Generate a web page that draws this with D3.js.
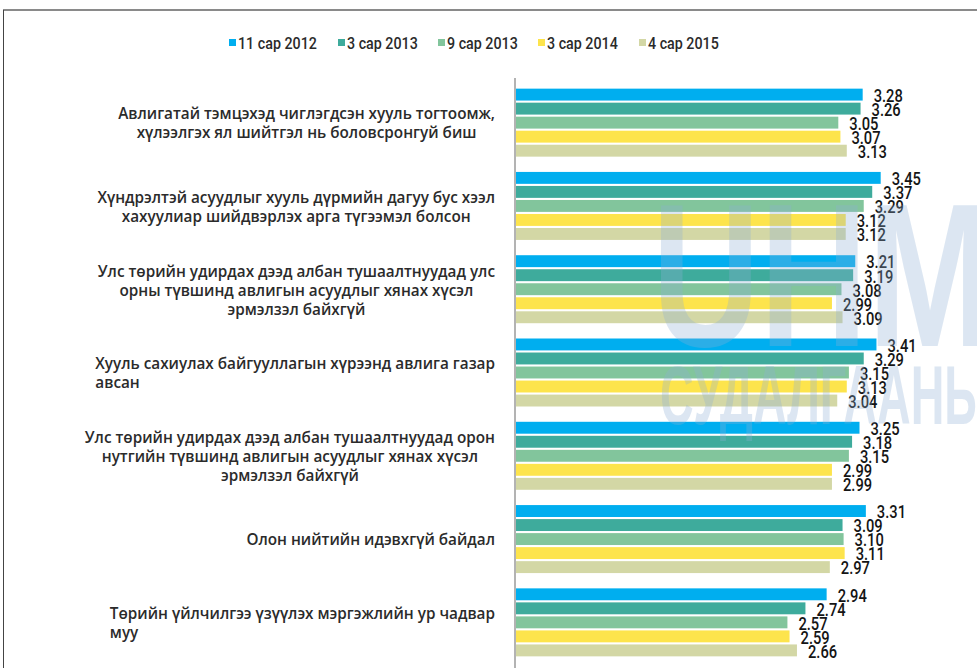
<!DOCTYPE html>
<html><head><meta charset="utf-8">
<script src="https://cdn.jsdelivr.net/npm/d3@7"></script>
<style>
html,body{margin:0;padding:0;background:#fff;}
svg{display:block;}
</style></head>
<body>
<svg id="chart" width="977" height="668"></svg>
<script>
// ---- data ----
const categories = [
  ["Авлигатай тэмцэхэд чиглэгдсэн хууль тогтоомж,", "хүлээлгэх ял шийтгэл нь боловсронгуй биш"],
  ["Хүндрэлтэй асуудлыг хууль дүрмийн дагуу бус хээл", "хахуулиар шийдвэрлэх арга түгээмэл болсон"],
  ["Улс төрийн удирдах дээд албан тушаалтнуудад улс", "орны түвшинд авлигын асуудлыг хянах хүсэл", "эрмэлзэл байхгүй"],
  ["Хууль сахиулах байгууллагын хүрээнд авлига газар", "авсан"],
  ["Улс төрийн удирдах дээд албан тушаалтнуудад орон", "нутгийн түвшинд авлигын асуудлыг хянах хүсэл", "эрмэлзэл байхгүй"],
  ["Олон нийтийн идэвхгүй байдал"],
  ["Төрийн үйлчилгээ үзүүлэх мэргэжлийн ур чадвар", "муу"]
];
const seriesNames = ["11 сар 2012", "3 сар 2013", "9 сар 2013", "3 сар 2014", "4 сар 2015"];
const s2012_11 = [3.28, 3.45, 3.21, 3.41, 3.25, 3.31, 2.94];
const s2013_03 = [3.26, 3.37, 3.19, 3.29, 3.18, 3.09, 2.74];
const s2013_09 = [3.05, 3.29, 3.08, 3.15, 3.15, 3.10, 2.57];
const s2014_03 = [3.07, 3.12, 2.99, 3.13, 2.99, 3.11, 2.59];
const s2015_04 = [3.13, 3.12, 3.09, 3.04, 2.99, 2.97, 2.66];
const seriesValues = [s2012_11, s2013_03, s2013_09, s2014_03, s2015_04];

// ---- styles ----
const colors = ["#00aeef", "#3eab9c", "#82c59c", "#fde44c", "#d3d7a5"];
const leftAlignedLabels = new Set([3, 6]);
const numFont = "Roboto,'Liberation Sans',sans-serif";
const catFont = "'Open Sans',sans-serif";
const squeeze = 0.84;

const svg = d3.select("#chart");

// frame
svg.append("line").attr("x1", 3).attr("x2", 977).attr("y1", 10).attr("y2", 10)
  .attr("stroke", "#8a8a8a").attr("stroke-width", 2);
svg.append("line").attr("x1", 3.5).attr("x2", 3.5).attr("y1", 10).attr("y2", 668)
  .attr("stroke", "#444").attr("stroke-width", 1);

// scales
const x = d3.scaleLinear().domain([0, 1]).range([515, 621]);
const y = d3.scaleBand().domain(d3.range(categories.length)).range([81, 664])
  .paddingInner(0.16).paddingOuter(0.08);
const ySub = d3.scaleBand().domain(d3.range(seriesNames.length)).range([0, y.bandwidth()])
  .paddingInner(0.15).paddingOuter(0.07);

// bars
const groups = svg.append("g").selectAll("g").data(categories).join("g")
  .attr("transform", (d, i) => `translate(0,${y(i)})`);

groups.each(function (d, ci) {
  const g = d3.select(this);
  seriesValues.forEach((vals, si) => {
    g.append("rect")
      .attr("x", x(0) + 1)
      .attr("y", ySub(si))
      .attr("width", x(vals[ci]) - x(0) - 1)
      .attr("height", ySub.bandwidth())
      .attr("fill", colors[si]);
  });
});

// watermark
const wm = svg.append("g").attr("pointer-events", "none");
wm.append("text").attr("x", 652).attr("y", 346).text("UHM")
  .attr("font-family", "'Liberation Sans',sans-serif").attr("font-weight", "bold")
  .attr("font-size", 205).attr("fill", "#8fb0d6").attr("opacity", 0.3)
  .attr("textLength", 340).attr("lengthAdjust", "spacingAndGlyphs");
wm.append("text").attr("x", 660).attr("y", 424).text("СУДАЛГААНЫ")
  .attr("font-family", "'Liberation Sans',sans-serif").attr("font-weight", "bold")
  .attr("font-size", 84).attr("fill", "#8fb0d6").attr("opacity", 0.3)
  .attr("textLength", 330).attr("lengthAdjust", "spacingAndGlyphs");

// value labels
groups.each(function (d, ci) {
  const g = d3.select(this);
  seriesValues.forEach((vals, si) => {
    g.append("text")
      .attr("transform", `translate(${x(vals[ci]) + 11},${ySub(si) + ySub.bandwidth() / 2 + 1}) scale(${squeeze},1)`)
      .attr("dy", "0.36em")
      .attr("font-family", numFont)
      .attr("font-weight", 500)
      .attr("font-size", 17.5)
      .attr("fill", "#151515")
      .text(vals[ci].toFixed(2));
  });
});

// axis line
svg.append("line").attr("x1", x(0)).attr("x2", x(0)).attr("y1", 78).attr("y2", 668)
  .attr("stroke", "#9a9a9a").attr("stroke-width", 1.5);

// category labels
const rightEdge = 495;
const lineH = 19;
categories.forEach((lines, ci) => {
  const cy = y(ci) + y.bandwidth() / 2 + 1;
  const t = svg.append("g");
  const texts = lines.map((ln, li) => t.append("text")
    .attr("y", cy + (li - (lines.length - 1) / 2) * lineH)
    .attr("dy", "0.35em")
    .attr("font-family", catFont).attr("font-weight", 600)
    .attr("font-size", 15.3).attr("fill", "#2b2b2b")
    .text(ln));
  const widths = texts.map(tx => tx.node().getComputedTextLength());
  const maxW = d3.max(widths);
  const left = rightEdge - maxW;
  texts.forEach((tx, li) => {
    if (leftAlignedLabels.has(ci)) tx.attr("x", left);
    else tx.attr("x", left + (maxW - widths[li]) / 2);
  });
});

// legend
const legendX = [229, 338, 438, 538, 639];
const leg = svg.append("g").selectAll("g").data(seriesNames).join("g")
  .attr("transform", (d, i) => `translate(${legendX[i]},43)`);
leg.append("rect").attr("x", 0).attr("y", -4).attr("width", 7).attr("height", 7)
  .attr("fill", (d, i) => colors[i]);
leg.append("text").attr("transform", `translate(9,0) scale(${squeeze},1)`).attr("dy", "0.35em")
  .attr("font-family", "Roboto,sans-serif").attr("font-weight", 500)
  .attr("font-size", 17).attr("fill", "#2a2a2a")
  .text(d => d);
</script>
</body></html>
